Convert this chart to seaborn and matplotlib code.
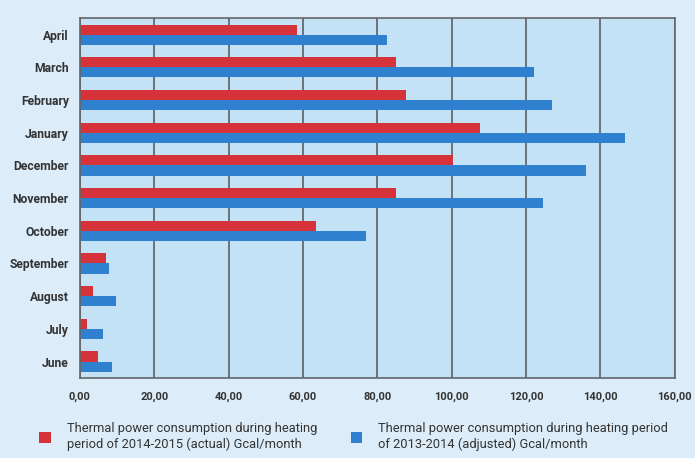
import matplotlib
matplotlib.use('Agg')
import matplotlib.pyplot as plt
import seaborn as sns
import pandas as pd

months = ['April', 'March', 'February', 'January', 'December', 'November',
          'October', 'September', 'August', 'July', 'June']
actual_2014_2015 = [58.5, 85.0, 87.6, 107.7, 100.4, 85.0, 63.4, 6.9, 3.6, 1.9, 4.9]
adjusted_2013_2014 = [82.7, 122.0, 127.0, 146.7, 136.0, 124.6, 77.0, 7.9, 9.8, 6.3, 8.7]
series_names = ['Thermal power consumption during heating\nperiod of 2014-2015 (actual) Gcal/month',
                'Thermal power consumption during heating period\nof 2013-2014 (adjusted) Gcal/month']
xticks = [0, 20, 40, 60, 80, 100, 120, 140, 160]

df = pd.DataFrame({
    'month': months * 2,
    'value': actual_2014_2015 + adjusted_2013_2014,
    'series': [series_names[0]] * len(months) + [series_names[1]] * len(months),
})

sns.set_style('white')
plt.rcParams['font.family'] = ['Roboto', 'DejaVu Sans']

fig = plt.figure(figsize=(6.95, 4.58), dpi=100)
fig.patch.set_facecolor('#dcecf8')
ax = fig.add_axes([0.115, 0.175, 0.856, 0.785])
ax.set_facecolor('#c3e2f6')

sns.barplot(data=df, y='month', x='value', hue='series', order=months,
            palette=['#d6323a', '#2f80cf'], width=0.62, ax=ax,
            edgecolor='none', saturation=1)

ax.set_xlim(0, 160)
ax.set_xticks(xticks)
ax.set_xticklabels([f'{t:.2f}'.replace('.', ',') for t in xticks],
                   fontsize=8, fontweight='bold', color='#333333')
ax.set_yticklabels(months, fontsize=8.7, fontweight='bold', color='#333333')
ax.xaxis.grid(True, color='#555555', linewidth=1.1)
ax.set_axisbelow(True)
ax.tick_params(axis='y', length=0, pad=8)
ax.tick_params(axis='x', length=0, pad=10)
ax.set_xlabel('')
ax.set_ylabel('')
for s in ax.spines.values():
    s.set_color('#666666')
    s.set_linewidth(1.2)

handles, labels = ax.get_legend_handles_labels()
ax.get_legend().remove()
fig.legend(handles, labels, loc='lower left', bbox_to_anchor=(0.04, -0.01),
           ncol=2, frameon=False, fontsize=9.3, handlelength=0.9,
           handleheight=0.9, columnspacing=2.6, labelcolor='#333333',
           handletextpad=1.2)

fig.savefig('out.png', dpi=100, facecolor=fig.get_facecolor())
